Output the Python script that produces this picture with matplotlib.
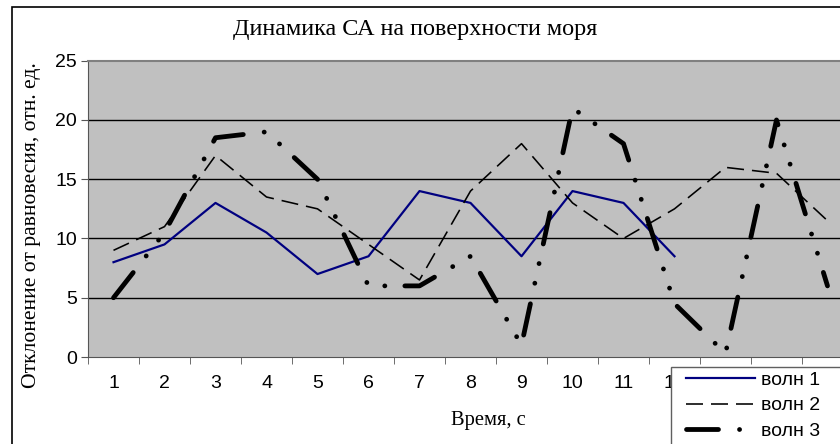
import numpy as np
import matplotlib
matplotlib.use("Agg")
import matplotlib.pyplot as plt
from matplotlib.lines import Line2D
from matplotlib.patches import Rectangle

plt.rcParams["lines.scale_dashes"] = False

W, H = 840, 444

title = "Динамика СА на поверхности моря"
ylabel = "Отклонение от равновесия, отн. ед."
xlabel = "Время, с"
labels = ["волн 1", "волн 2", "волн 3"]

t = list(range(1, 16))
wave1 = [8, 9.5, 13, 10.5, 7, 8.5, 14, 13, 8.5, 14, 13, 8.5]
wave2 = [9, 11, 17, 13.5, 12.5, 9.5, 6.5, 14, 18, 13, 10, 12.5, 16, 15.5, 11.5]
wave3 = [5, 10.5, 18.5, 19, 15, 6, 6, 8.5, 1, 21, 18, 4.5, 0.3, 20, 6]
yticks = [0, 5, 10, 15, 20, 25]
# categories 13-15 sit under the legend box in the original
xticklabels = [str(v) if v <= 12 else "" for v in t]

SANS = "Liberation Sans"
SERIF = "Liberation Serif"


def px(x):
    return x * 72 / 100


fig = plt.figure(figsize=(W / 100, H / 100), dpi=100)
fig.patch.set_facecolor("white")

# outer chart frame (runs off the right and bottom edges)
fig.patches.append(Rectangle((12 / W, -0.1), 1.2, 1 - 7 / H + 0.1,
                             transform=fig.transFigure, fill=False,
                             edgecolor="black", linewidth=1.2, zorder=1))

left, right, top, bottom = 88, 853, 60.7, 357
ax = fig.add_axes([left / W, 1 - bottom / H, (right - left) / W, (bottom - top) / H])
ax.set_facecolor("#C0C0C0")

ax.set_xlim(0.5, 15.5)
ax.set_ylim(0, 25)

for y in yticks[1:-1]:
    ax.axhline(y, color="black", linewidth=1, zorder=1)

w1_style = dict(color="#000080", linewidth=px(2.2))
w2_style = dict(color="black", linewidth=px(1.6), dashes=(px(17), px(8)))
w3_style = dict(color="black", linewidth=px(4.8),
                dashes=(px(32), px(21), px(0.1), px(20), px(0.1), px(20)),
                dash_capstyle="round")

ax.plot(t[:len(wave1)], wave1, zorder=3, **w1_style)
ax.plot(t, wave2, zorder=3, **w2_style)
ax.plot(t, wave3, zorder=3, dash_joinstyle="round", **w3_style)

ax.spines["right"].set_visible(False)
ax.spines["top"].set_color("#808080")
ax.spines["top"].set_linewidth(1.5)
ax.spines["left"].set_color("#555555")
ax.spines["bottom"].set_color("#555555")

ax.set_yticks(yticks)
ax.set_yticklabels([str(v) for v in yticks], fontfamily=SANS, fontsize=14)
ax.tick_params(axis="y", direction="out", length=5, color="#555555", pad=3)

ax.set_xticks(t)
ax.set_xticklabels(xticklabels, fontfamily=SANS, fontsize=14)
ax.set_xticks(np.arange(0.5, 16, 1), minor=True)
ax.tick_params(axis="x", which="major", length=0, pad=13)
ax.tick_params(axis="x", which="minor", direction="out", length=5, color="#555555")

fig.text(415 / W, 1 - 30 / H, title, fontfamily=SERIF, fontsize=17.4,
         ha="center", va="center")
fig.text(32 / W, 1 - 225.5 / H, ylabel, fontfamily=SERIF, fontsize=15.6,
         ha="center", va="center", rotation=90)
fig.text(488 / W, 1 - 420 / H, xlabel, fontfamily=SERIF, fontsize=14.8,
         ha="center", va="center")

# legend box, also running off the figure edges
fig.patches.append(Rectangle((671 / W, -0.1), 0.3, 1 - 366.7 / H + 0.1,
                             transform=fig.transFigure, facecolor="white",
                             edgecolor="#606060", linewidth=1, zorder=4))

handles = [Line2D([], [], **w1_style), Line2D([], [], **w2_style),
           Line2D([], [], **w3_style)]
leg = fig.legend(handles, labels, loc="upper left",
                 bbox_to_anchor=(686 / W, 1 - 371 / H),
                 borderaxespad=0, borderpad=0, frameon=False,
                 prop={"family": SANS, "size": 14}, handlelength=3.55,
                 handletextpad=0.3, labelspacing=0.42)
leg.set_zorder(6)

fig.savefig("out.png", dpi=100)
